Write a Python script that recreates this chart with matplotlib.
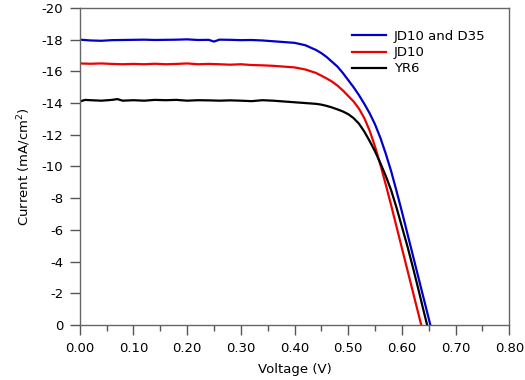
import numpy as np
import matplotlib
matplotlib.use("Agg")
import matplotlib.pyplot as plt
from matplotlib.ticker import MultipleLocator, FormatStrFormatter

# J-V curves (voltage in V, current in mA/cm^2)
v_blue = [0.00, 0.02, 0.04, 0.06, 0.08, 0.10, 0.12, 0.14, 0.16, 0.18, 0.20, 0.22,
          0.24, 0.25, 0.26, 0.28, 0.30, 0.32, 0.34, 0.36, 0.38, 0.40, 0.42, 0.44,
          0.45, 0.46, 0.47, 0.48, 0.49, 0.50, 0.51, 0.52, 0.53, 0.54, 0.55, 0.56,
          0.57, 0.58, 0.59, 0.60, 0.61, 0.62, 0.63, 0.64, 0.653]
j_blue = [-18.00, -17.95, -17.93, -17.97, -17.98, -17.99, -18.00, -17.98, -17.99, -18.00,
          -18.02, -17.98, -17.99, -17.88, -18.00, -17.99, -17.97, -17.98, -17.95, -17.90,
          -17.85, -17.80, -17.65, -17.35, -17.15, -16.90, -16.60, -16.30, -15.90, -15.45,
          -15.00, -14.50, -13.95, -13.35, -12.65, -11.80, -10.80, -9.70, -8.45, -7.15,
          -5.80, -4.45, -3.10, -1.75, 0.00]

v_red = [0.00, 0.02, 0.04, 0.06, 0.08, 0.10, 0.12, 0.14, 0.16, 0.18, 0.20, 0.22,
         0.24, 0.26, 0.28, 0.30, 0.32, 0.34, 0.36, 0.38, 0.40, 0.42, 0.44, 0.46,
         0.47, 0.48, 0.49, 0.50, 0.51, 0.52, 0.53, 0.54, 0.55, 0.56, 0.57, 0.58,
         0.59, 0.60, 0.61, 0.62, 0.636]
j_red = [-16.50, -16.48, -16.50, -16.47, -16.45, -16.47, -16.45, -16.48, -16.45, -16.47,
         -16.50, -16.45, -16.47, -16.45, -16.42, -16.45, -16.40, -16.38, -16.35, -16.30,
         -16.25, -16.12, -15.90, -15.55, -15.35, -15.10, -14.80, -14.45, -14.10, -13.65,
         -13.05, -12.25, -11.25, -10.10, -8.85, -7.55, -6.20, -4.85, -3.50, -2.15,
         0.00]

v_black = [0.00, 0.01, 0.02, 0.04, 0.06, 0.07, 0.08, 0.10, 0.12, 0.14, 0.16, 0.18,
           0.20, 0.22, 0.24, 0.26, 0.28, 0.30, 0.32, 0.34, 0.36, 0.38, 0.40, 0.42,
           0.44, 0.45, 0.46, 0.47, 0.48, 0.49, 0.50, 0.51, 0.52, 0.53, 0.54, 0.55,
           0.56, 0.57, 0.58, 0.59, 0.60, 0.61, 0.62, 0.63, 0.64, 0.647]
j_black = [-14.10, -14.20, -14.18, -14.15, -14.20, -14.25, -14.15, -14.18, -14.15, -14.20,
           -14.18, -14.20, -14.15, -14.18, -14.17, -14.15, -14.17, -14.15, -14.12, -14.18,
           -14.15, -14.10, -14.05, -14.00, -13.95, -13.90, -13.82, -13.72, -13.60, -13.47,
           -13.30, -13.05, -12.70, -12.20, -11.60, -10.95, -10.20, -9.40, -8.50, -7.40,
           -6.20, -5.00, -3.70, -2.35, -0.95, 0.00]

labels = ["JD10 and D35", "JD10", "YR6"]
colors = ["#0000cc", "#ee0000", "#000000"]

plt.rcParams.update({"font.family": "DejaVu Sans", "font.size": 9.5,
                     "axes.unicode_minus": False})
fig = plt.figure(figsize=(5.25, 3.8), dpi=100)
ax = fig.add_axes([0.152, 0.145, 0.818, 0.834])

for v, j, lab, c in zip([v_blue, v_red, v_black], [j_blue, j_red, j_black], labels, colors):
    ax.plot(v, j, color=c, linewidth=1.6, label=lab)

ax.set_xlim(0, 0.80)
ax.set_ylim(0, -20)
ax.xaxis.set_major_locator(MultipleLocator(0.1))
ax.xaxis.set_minor_locator(MultipleLocator(0.05))
ax.yaxis.set_major_locator(MultipleLocator(2))
ax.xaxis.set_major_formatter(FormatStrFormatter("%.2f"))
ax.tick_params(which="major", direction="out", length=7, width=1, color="#555555", pad=5)
ax.tick_params(which="minor", direction="out", length=4, width=1, color="#555555")
ax.tick_params(axis="y", which="minor", length=0)
for s in ax.spines.values():
    s.set_color("#666666")
    s.set_linewidth(1)

ax.set_xlabel("Voltage (V)", labelpad=6)
ax.set_ylabel("Current (mA/cm$^2$)", labelpad=6)
ax.legend(loc="upper right", frameon=False, handlelength=2.6, handletextpad=0.6,
          labelspacing=0.25, borderaxespad=0.9, bbox_to_anchor=(0.985, 0.985))

fig.savefig("out.png", dpi=100)
